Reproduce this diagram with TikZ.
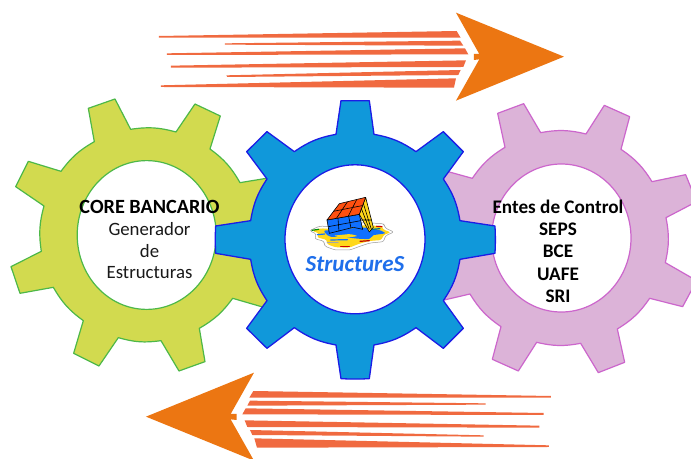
\documentclass[tikz,border=0pt]{standalone}
\usepackage{fontspec}
\setmainfont{Carlito}
\definecolor{lime}{HTML}{D2DA4F}
\definecolor{limeedge}{HTML}{4DB848}
\definecolor{pinkfill}{HTML}{DCB3D8}
\definecolor{pinkedge}{HTML}{CC66CC}
\definecolor{gearblue}{HTML}{1098DA}
\definecolor{blueedge}{HTML}{1C1CE6}
\definecolor{arroworange}{HTML}{EC7612}
\definecolor{streak}{HTML}{F06A40}
\definecolor{brand}{HTML}{1F6FEB}
\definecolor{cubered}{HTML}{FF5010}
\definecolor{cubeblue}{HTML}{1070FF}
\definecolor{cubeyellow}{HTML}{FFD81A}
\tikzset{
  limegear/.style={fill=lime,draw=limeedge,line width=1.2pt,line join=round},
  pinkgear/.style={fill=pinkfill,draw=pinkedge,line width=1.2pt,line join=round},
  bluegear/.style={fill=gearblue,draw=blueedge,line width=1.3pt,line join=round},
  arc12/.style={bend left=12},
  headshape/.style={fill=arroworange},
  streakshape/.style={fill=streak},
  label/.style={font=\fontsize{18.8}{22}\selectfont,text=black!90,inner sep=0pt,anchor=center},
  boldlabel/.style={inner sep=0pt,anchor=center,text=black,font=\fontsize{19.2}{22}\selectfont\bfseries},
  cubeline/.style={draw=black,line width=0.6pt,line join=round},
  drip/.style={line width=1.2pt,line cap=round}
}
\begin{document}
\begin{tikzpicture}[x=1pt,y=-1pt]
\clip (0,0) rectangle (691,458);
\fill[white] (0,0) rectangle (691,458);
% top arrow
\begin{scope}[shift={(140,0)},x=0.3333pt,y=-0.3333pt]
\fill[streakshape] (57,108)--(950,93)--(962,113)--(57,113)--cycle;
\fill[streakshape] (255,130)--(960,122)--(970,137)--(255,134)--cycle;
\fill[streakshape] (81,160)--(975,145)--(985,163)--(81,165)--cycle;
\fill[streakshape] (93,197)--(978,181)--(970,201)--(93,203)--cycle;
\fill[streakshape] (259,226)--(962,210)--(955,225)--(262,231)--cycle;
\fill[streakshape] (63,256)--(948,235)--(942,263)--(63,261)--cycle;
\fill[headshape] (948,38)--(1272,170)--(948,302)--(1018,178)--(1002,180)--(1002,162)--(1018,162)--cycle;
\end{scope}
% bottom arrow
\begin{scope}[shift={(130,360)},x=0.3333pt,y=-0.3333pt]
\fill[streakshape] (370,93)--(1263,108)--(1263,113)--(358,113)--cycle;
\fill[streakshape] (360,122)--(1067,130)--(1067,134)--(352,137)--cycle;
\fill[streakshape] (347,145)--(1241,159)--(1241,165)--(337,163)--cycle;
\fill[streakshape] (344,181)--(1228,197)--(1228,203)--(352,201)--cycle;
\fill[streakshape] (360,210)--(1061,226)--(1061,230)--(367,225)--cycle;
\fill[streakshape] (373,235)--(1257,256)--(1257,261)--(381,263)--cycle;
\fill[headshape] (372,38)--(48,170)--(372,302)--(302,178)--(320,180)--(320,162)--(302,162)--cycle;
\end{scope}
% left gear
\begin{scope}[shift={(0,90)},x=0.3333pt,y=-0.3333pt]
\draw[limegear] (265,55)--(345,27)--(392,118) to[arc12] (528,126)--(585,42)--(661,78)--(630,177) to[arc12] (720,278)--(860,255)--(900,330)--(900,560)--(860,672)--(698,625) to[arc12] (598,715)--(615,815)--(537,843)--(483,752) to[arc12] (355,743)--(297,828)--(221,790)--(250,692) to[arc12] (160,592)--(60,610)--(33,530)--(124,484) to[arc12] (132,348)--(47,290)--(85,214)--(183,244) to[arc12] (283,155)--cycle;
\end{scope}
\draw[fill=white,draw=limeedge,line width=1.2pt] (146.7,235) ellipse [x radius=69.5,y radius=74.4];
% right gear
\begin{scope}[shift={(430,90)},x=0.3333pt,y=-0.3333pt]
\draw[pinkgear] (203,70)--(281,41)--(332,128) to[arc12] (468,132)--(523,46)--(599,80)--(573,178) to[arc12] (666,275)--(767,254)--(800,335)--(708,383) to[arc12] (706,518)--(800,572)--(758,650)--(659,625) to[arc12] (562,717)--(584,817)--(505,848)--(452,760) to[arc12] (320,757)--(265,843)--(187,808)--(213,710) to[arc12] (120,612)--(0,640)--(-30,560)--(-30,320)--(0,230)--(127,265) to[arc12] (225,172)--cycle;
\end{scope}
\draw[fill=white,draw=pinkedge,line width=1.2pt] (561.3,238) ellipse [x radius=69.7,y radius=74];
% centre gear
\begin{scope}[shift={(210,90)},x=0.3333pt,y=-0.3333pt]
\draw[bluegear] (393,32)--(478,32)--(492,133) to[arc12] (618,185)--(700,125)--(760,185)--(700,267) to[arc12] (750,392)--(855,408) to[bend left=3] (855,490)--(750,508) to[arc12] (700,632)--(760,715)--(700,775)--(618,713) to[arc12] (492,765)--(478,866) to[bend left=3] (393,866)--(378,765) to[arc12] (253,713)--(171,775)--(110,715)--(171,632) to[arc12] (122,508)--(17,490) to[bend left=3] (17,408)--(122,392) to[arc12] (171,267)--(110,185)--(171,125)--(253,185) to[arc12] (378,133)--cycle;
\end{scope}
\draw[fill=white,draw=blueedge,line width=1.3pt] (355,239.3) ellipse [x radius=70,y radius=74.5];
% melted cube
\begin{scope}[shift={(270,170)},x=0.3333pt,y=-0.3333pt]
\fill[white,draw=black!40,line width=0.5pt,rounded corners=2.5pt] (118,182) -- (150,168) -- (200,172) -- (280,158) -- (342,161) -- (345,174) -- (372,186) -- (345,198) -- (342,215) -- (300,219) -- (272,228) -- (240,240) -- (195,240) -- (163,228) -- (163,214) -- (133,206) -- (140,192) -- cycle;
\fill[cubeyellow,rounded corners=2.5pt] (126,182) -- (152,175) -- (200,178) -- (280,166) -- (336,168) -- (338,178) -- (363,187) -- (340,195) -- (335,210) -- (298,213) -- (268,221) -- (238,233) -- (197,232) -- (170,222) -- (172,210) -- (140,202) -- (148,191) -- cycle;
\fill[cubeblue,rounded corners=2pt] (160,182) -- (280,172) -- (330,180) -- (348,190) -- (305,196) -- (302,208) -- (262,206) -- (230,202) -- (176,200) -- cycle;
\fill[cubeyellow,rounded corners=1.5pt] (190,197) -- (240,192) -- (264,198) -- (220,205) -- cycle;
\draw[drip,green!55!black] (126,181) -- (146,178);
\draw[drip,red!80!black] (320,169) -- (336,170);
\draw[drip,green!45!blue] (305,178) -- (330,176);
\draw[drip,red!80!black] (212,229) -- (238,229);
\draw[drip,cubeblue] (182,210) -- (232,209);
\draw[drip,red!75!black] (270,214) -- (298,212);
\draw[drip,gray!70] (172,218) -- (204,218);
\draw[drip,cubeblue] (142,194) -- (164,192);
\draw[cubeline,fill=cubeyellow] (268,133)--(287,82)--(310,172)--(298,186)--cycle;
\draw[cubeline,fill=cubeblue] (171,150)--(268,133)--(278,178)--(250,172)--(178,190)--cycle;
\draw[cubeline,fill=cubered] (171,150)--(208,101)--(287,82)--(268,133)--cycle;
\draw[cubeline] (204,145)--(207,184) (236,139)--(243,175);
\draw[cubeline] (175,170)--(272,152);
\draw[cubeline] (190,124)--(276,107) (232,96)--(200,144) (260,89)--(235,138);
\draw[cubeline] (274,115)--(298,178) (280,100)--(304,178) (272,150)--(305,150);
\end{scope}
\node[inner sep=0pt,text=brand,font=\fontsize{23}{26}\selectfont\bfseries\itshape] (brandname) at (355,264) {StructureS};
% labels
\node[boldlabel,font=\fontsize{20.2}{22}\selectfont\bfseries] (core) at (149.5,206.7) {CORE BANCARIO};
\node[label] (gen) at (149.5,229) {Generador};
\node[label] (de) at (149.5,251) {de};
\node[label] (est) at (149.5,273) {Estructuras};
\node[boldlabel] (entes) at (558,206.7) {Entes de Control};
\node[boldlabel] (seps) at (558,229) {SEPS};
\node[boldlabel] (bce) at (558,251) {BCE};
\node[boldlabel] (uafe) at (558,274) {UAFE};
\node[boldlabel] (sri) at (558,296) {SRI};
\end{tikzpicture}
\end{document}
